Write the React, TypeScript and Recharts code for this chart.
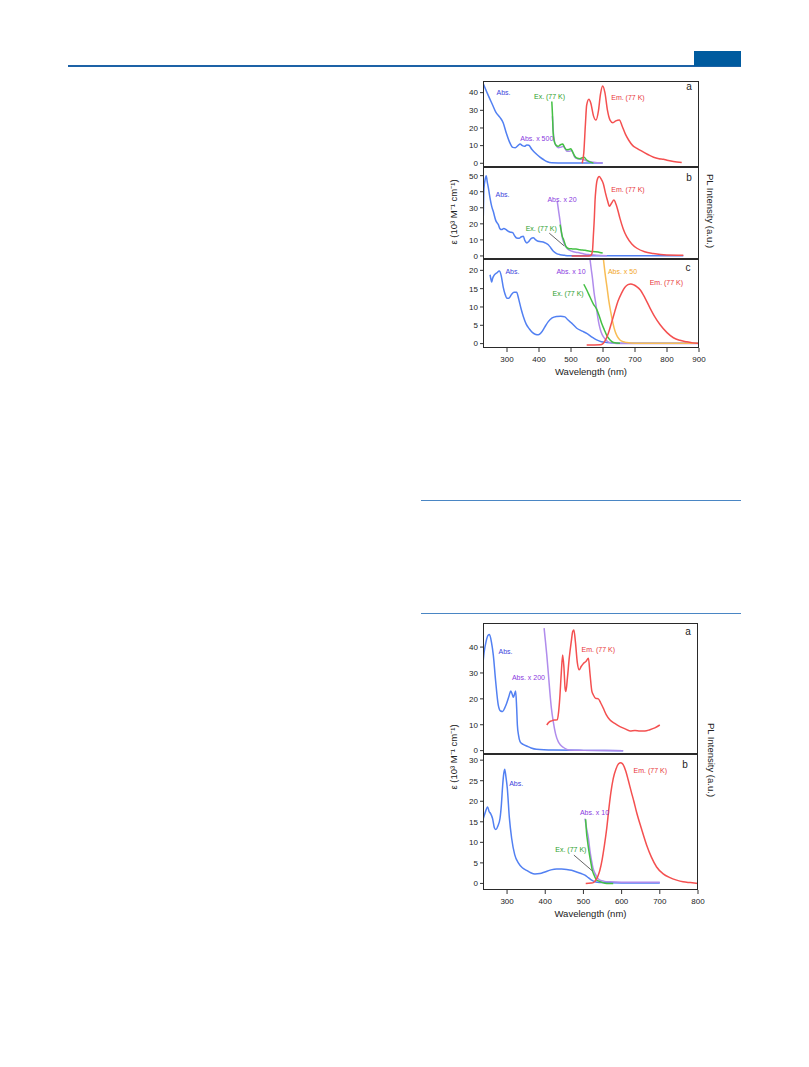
import React from 'react'
import { LineChart, Line, XAxis, YAxis, ReferenceDot, ReferenceLine } from 'recharts'

type Pt = [number, number]

// ---- figure 1 (panels a, b, c): wavelength (nm) vs eps (10^3 M-1 cm-1) / PL ----
const f1aAbs: Pt[] = [[226, 45], [240, 39], [255, 33], [265, 29], [278, 26], [288, 23], [298, 17], [308, 12], [318, 9], [326, 8.8], [334, 10], [341, 10.9], [348, 10], [355, 9.6], [362, 10.4], [368, 10.2], [378, 7.8], [390, 5.5], [403, 3.5], [415, 2], [426, 0.9], [440, 0.3], [480, 0.1], [599, 0.1]]
const f1aEx: Pt[] = [[440, 35], [442, 28], [444, 18], [447, 13], [452, 10.5], [460, 9.6], [467, 10.5], [474, 10.9], [480, 9], [487, 7.7], [493, 7.8], [499, 8.3], [505, 6.5], [512, 4], [520, 2.8], [528, 2.6], [535, 3.1], [541, 3.4], [548, 2], [555, 1.1], [563, 0.5], [570, 0.2]]
const f1aAbsX500: Pt[] = [[442, 26.6], [444, 20], [446, 15], [449, 12], [454, 9.8], [460, 8.8], [468, 9.1], [476, 9.6], [482, 8], [487, 6.8], [495, 6.8], [502, 7.2], [507, 5.5], [512, 3.4], [520, 2.6], [530, 2.3], [538, 2.1], [550, 1.3], [570, 0.6], [599, 0.2]]
const f1aEm: Pt[] = [[535, 0], [540, 6], [545, 22], [549, 33], [556, 36.3], [562, 34], [570, 27], [578, 24.5], [586, 30], [592, 39], [599, 43.8], [606, 40], [614, 30], [622, 24.5], [631, 23], [640, 24], [651, 24.5], [660, 21], [670, 16.5], [680, 13.2], [693, 10], [706, 8.5], [720, 7], [740, 5], [758, 3.4], [775, 2.6], [789, 2.3], [800, 1.7], [820, 1], [846, 0.5]]

const f1bAbs: Pt[] = [[226, 25], [228, 42], [232, 48], [235, 50], [238, 46.5], [243, 41], [247, 36], [252, 31], [257, 27.8], [265, 22], [273, 19.5], [278, 17], [283, 16.4], [290, 17.1], [296, 16.6], [302, 15.6], [309, 14.9], [318, 14.5], [324, 12.5], [330, 11.2], [338, 11], [345, 12], [351, 12.2], [356, 9.5], [362, 8.1], [368, 9], [375, 10.8], [382, 11.3], [390, 10], [398, 9.1], [406, 8.9], [413, 8.7], [421, 8], [429, 7], [437, 5], [445, 2.9], [455, 1.5], [466, 0.8], [480, 0.4], [492, 0.2], [600, 0.2], [851, 0.1]]
const f1bAbsX20: Pt[] = [[457, 34], [462, 27], [466, 21.6], [471, 13.3], [478, 8.1], [487, 5], [495, 3.6], [503, 2.9], [515, 2.3], [528, 1.9], [545, 1.1], [559, 0.8], [580, 0.4], [612, 0.2]]
const f1bEx: Pt[] = [[466, 19.5], [470, 15], [473, 12], [477, 10.1], [484, 6], [490, 4.8], [495, 4.5], [505, 4.4], [516, 4.3], [528, 3.9], [544, 3.5], [559, 2.9], [575, 2.6], [590, 2.2], [599, 1.8]]
const f1bEm: Pt[] = [[502, 0], [555, 0], [563, 0.5], [567, 3], [570, 13], [573, 24], [575, 34], [578, 42], [582, 47.5], [588, 49.5], [594, 48], [601, 45], [608, 39], [614, 34.5], [620, 31], [627, 33], [634, 34.8], [641, 32], [647, 28], [653, 23.4], [663, 17], [674, 12], [690, 7.5], [706, 4.8], [730, 2.6], [757, 1.5], [799, 0.6], [851, 0.5]]

const f1cAbs: Pt[] = [[247, 18.8], [250, 17.5], [252, 16.8], [255, 17.8], [260, 18.7], [268, 19.3], [276, 19.8], [282, 18.5], [288, 15.5], [294, 13.5], [300, 12.4], [306, 12.4], [314, 13.4], [322, 14], [330, 14], [337, 12], [344, 9.5], [351, 7.4], [360, 5.3], [370, 4], [380, 3], [390, 2.5], [398, 2.4], [407, 3], [418, 4.5], [429, 6], [441, 7], [455, 7.4], [468, 7.5], [481, 7.3], [490, 6.5], [502, 5.6], [518, 4.2], [535, 3.4], [549, 2.8], [565, 1.8], [580, 1], [595, 0.5], [612, 0.3], [650, 0.1], [900, 0.1]]
const f1cEx: Pt[] = [[540, 16.2], [550, 14.5], [559, 12.8], [570, 10.8], [580, 9.4], [588, 7.6], [596, 5.5], [604, 3.8], [612, 2.2], [622, 1], [633, 0.3], [653, 0.1]]
const f1cAbsX10: Pt[] = [[559, 23.3], [563, 20.5], [567, 17.9], [572, 14], [578, 10.6], [583, 7.6], [588, 5.1], [594, 3.2], [601, 1.9], [609, 1], [617, 0.4], [635, 0.1], [653, 0], [900, 0]]
const f1cAbsX50: Pt[] = [[601, 23.3], [606, 19.5], [613, 15.1], [618, 11.8], [624, 8.7], [631, 5.6], [638, 3.3], [645, 1.9], [653, 1], [663, 0.5], [674, 0.3], [700, 0.1], [900, 0.1]]
const f1cEm: Pt[] = [[549, -0.4], [591, -0.3], [600, 0], [608, 1], [617, 2.9], [627, 5.8], [637, 8.8], [647, 11.6], [658, 13.8], [668, 15.3], [678, 16.1], [687, 16.3], [697, 16], [706, 15.5], [716, 14.7], [731, 12.5], [747, 9.7], [762, 7.3], [778, 5.2], [800, 3], [820, 1.6], [840, 0.9], [862, 0.5], [880, 0.2], [900, 0]]

// ---- figure 2 (panels a, b) ----
const f2aAbs: Pt[] = [[236, 32.4], [240, 38], [245, 42.1], [250, 44.5], [254, 44.9], [259, 42], [264, 36.9], [270, 27], [277, 17.6], [283, 15.3], [288.5, 15.1], [294, 16.5], [299, 18.3], [305, 21], [309.5, 23], [313, 22], [316.5, 20.6], [319, 21.5], [322.5, 23], [325, 17], [327, 9.9], [330, 6], [334, 3.5], [342, 2.4], [351, 1.8], [363, 1], [377, 0.5], [421, 0.2], [500, 0.1], [604, 0]]
const f2aAbsX200: Pt[] = [[397, 47.3], [400, 43], [404, 37], [408, 30], [412, 22.8], [416, 16.5], [421, 11.2], [427, 6.5], [434, 3.5], [440, 2.2], [447, 1.3], [455, 0.6], [464, 0.2], [500, 0.1], [604, 0]]
const f2aEm: Pt[] = [[404, 9.9], [410, 11], [417, 11.5], [424, 11.8], [431.5, 11.9], [435, 15], [438, 20.2], [442, 30], [445.6, 36.9], [449, 32], [452, 24], [454, 22.8], [458, 28], [463, 36], [468, 42], [472, 46], [475, 46.6], [479, 42], [484, 34], [489, 31.2], [494, 32.5], [500, 33.7], [507, 34.5], [513, 35.7], [517, 30], [522, 23], [526, 21.5], [532, 20.2], [539, 20], [545, 18.5], [552, 16.4], [560, 13.8], [569, 11.9], [582, 10.5], [595.6, 9.3], [609, 8.4], [622, 7.6], [635, 7.8], [648, 7.6], [661, 7.6], [674, 8.1], [687, 8.8], [700, 9.9]]

const f2bAbs: Pt[] = [[236, 15.2], [242, 17], [249, 18.6], [253, 17.5], [257, 17], [262, 15.8], [267, 13.5], [271, 13.1], [276, 14], [281.5, 15.8], [285, 19], [288.5, 23.9], [291, 26.5], [293.8, 27.8], [297, 26], [300.7, 23.1], [306, 16], [312, 11], [320, 7], [329.5, 5], [340, 3.8], [351, 3.2], [362, 2.6], [373, 2.3], [386, 2.4], [399, 2.8], [415, 3.3], [430, 3.5], [443, 3.5], [456, 3.4], [469, 3.2], [482, 2.8], [494, 2.4], [504, 2], [513, 1.4], [521.5, 0.8], [530, 0.4], [543, 0.2], [600, 0.1], [700, 0.1]]
const f2bEx: Pt[] = [[505.8, 15.6], [508, 12.5], [511, 10.1], [515, 7.5], [519, 5.3], [523, 3.3], [528, 2], [533, 1], [539, 0.6], [550, 0.2], [561, 0], [578, 0]]
const f2bAbsX10: Pt[] = [[504, 15.8], [508, 13.5], [513, 11], [517, 8], [521.5, 5.4], [525, 3.8], [530, 2.5], [535, 1.6], [543, 0.8], [555, 0.5], [569, 0.4], [600, 0.3], [650, 0.3], [700, 0.3]]
const f2bEm: Pt[] = [[506, 0], [520, 0.1], [526, 0.2], [533, 0.9], [538, 1.8], [543, 3.2], [549, 5.8], [555, 9.3], [561, 13.4], [567, 18.5], [572, 22.2], [578, 25.5], [585, 27.8], [592, 29.1], [598, 29.4], [604, 28.9], [611, 27.3], [617.5, 25.1], [625, 22.4], [632, 20], [639, 17.4], [652, 13.3], [665.6, 9.3], [678, 6.4], [691.6, 4], [708, 2.4], [726.5, 1.4], [744, 0.8], [761, 0.4], [780, 0.2], [800, 0]]

const f1XTicks = [300, 400, 500, 600, 700, 800, 900]
const f2XTicks = [300, 400, 500, 600, 700, 800]

const C = {
  abs: '#5280f2', absText: '#3b3fdc',
  ex: '#44c044', exText: '#2a9e2a',
  pur: '#b08cec', purText: '#8a3ae0',
  em: '#f45050', emText: '#e8343a',
  org: '#f8bd55', orgText: '#f2a51c',
}

type Series = { data: Pt[]; color: string; pl?: boolean }
type Note = { text: string; x: number; y: number; color: string }
type PanelProps = {
  top: number; plotH: number; plotW: number
  xDomain: [number, number]; xTicks?: number[]
  yDomain: [number, number]; yTicks: number[]
  series: Series[]; notes: Note[]; arrow?: [Pt, Pt]
  letter: string; letterAt: [number, number]
}

const PLOT_LEFT = 483
const Y_W = 42
const R_W = 20
const X_H = 32
const PAD = 5 // room so edge tick labels are not clipped

const rows = (p: Pt[]) => p.map(([x, y]) => ({ x, y }))

function Panel(p: PanelProps) {
  const showX = !!p.xTicks
  const bottomPad = showX ? 0 : PAD
  const h = PAD + p.plotH + (showX ? X_H : bottomPad)
  return (
    <>
      <div style={{ position: 'absolute', left: PLOT_LEFT - Y_W, top: p.top - PAD }}>
        <LineChart width={Y_W + p.plotW + R_W} height={h} margin={{ top: PAD, right: 0, bottom: bottomPad, left: 0 }}>
          <XAxis
            type="number" dataKey="x" domain={p.xDomain} allowDataOverflow interval={0}
            hide={!showX} ticks={p.xTicks} tickSize={4} tickMargin={4} height={X_H}
            axisLine={false} tickLine={{ stroke: '#333' }}
            tick={{ fontSize: 8, fill: '#222' }}
            label={{ value: 'Wavelength (nm)', position: 'insideBottom', offset: 5, fontSize: 9.5, fill: '#222' }}
          />
          <YAxis
            yAxisId="eps" type="number" domain={p.yDomain} allowDataOverflow ticks={p.yTicks} interval={0}
            width={Y_W} tickSize={3} tickMargin={2} axisLine={false} tickLine={{ stroke: '#333' }}
            tick={{ fontSize: 8, fill: '#222' }}
          />
          <YAxis
            yAxisId="pl" orientation="right" type="number" domain={p.yDomain} allowDataOverflow
            width={R_W} tick={false} tickLine={false} axisLine={false}
          />
          {p.series.map((s, i) => (
            <Line
              key={i} data={rows(s.data)} dataKey="y" yAxisId={s.pl ? 'pl' : 'eps'}
              type="monotone" stroke={s.color} strokeWidth={1.5} dot={false}
              activeDot={false} isAnimationActive={false}
            />
          ))}
          {p.arrow && (
            <ReferenceLine
              yAxisId="eps"
              segment={[{ x: p.arrow[0][0], y: p.arrow[0][1] }, { x: p.arrow[1][0], y: p.arrow[1][1] }]}
              stroke="#666" strokeWidth={1}
            />
          )}
          {p.notes.map((n, i) => (
            <ReferenceDot
              key={'n' + i} yAxisId="eps" x={n.x} y={n.y} r={1} fill="none" stroke="none"
              label={{ value: n.text, position: 'center', fill: n.color, fontSize: 7 }}
            />
          ))}
        </LineChart>
      </div>
      <div style={{
        position: 'absolute', left: PLOT_LEFT, top: p.top, width: p.plotW, height: p.plotH,
        border: '1.6px solid #2a2a2a', boxSizing: 'border-box', pointerEvents: 'none',
      }} />
      <div style={{
        position: 'absolute', left: PLOT_LEFT + p.plotW + p.letterAt[0], top: p.top + p.letterAt[1],
        transform: 'translate(-50%, -50%)', fontSize: 10, lineHeight: 1, color: '#222',
      }}>{p.letter}</div>
    </>
  )
}

function VLabel({ text, x, y, rot }: { text: string; x: number; y: number; rot: number }) {
  return (
    <div style={{
      position: 'absolute', left: x, top: y, transform: `translate(-50%, -50%) rotate(${rot}deg)`,
      fontSize: 9.5, color: '#222', whiteSpace: 'nowrap', lineHeight: 1,
    }}>{text}</div>
  )
}

const EPS = 'ε (10³ M⁻¹ cm⁻¹)'
const PL = 'PL Intensity (a.u.)'

export default function App() {
  const f1x: [number, number] = [225, 900]
  const f2x: [number, number] = [237, 800]
  return (
    <div style={{
      position: 'absolute', left: 0, top: 0, width: 809, height: 1067, background: '#fff',
      fontFamily: '"Liberation Sans", Arial, sans-serif', overflow: 'hidden',
    }}>
      <div style={{ position: 'absolute', left: 68, top: 65, width: 673, height: 1.5, background: '#1d62a6' }} />
      <div style={{ position: 'absolute', left: 694, top: 51, width: 47, height: 15, background: '#005b9f' }} />
      <div style={{ position: 'absolute', left: 421, top: 500, width: 320, height: 1, background: '#4a86c4' }} />
      <div style={{ position: 'absolute', left: 421, top: 613, width: 320, height: 1, background: '#4a86c4' }} />

      <Panel
        top={81} plotH={86} plotW={216} xDomain={f1x}
        yDomain={[-2.1, 46.6]} yTicks={[0, 10, 20, 30, 40]}
        series={[
          { data: f1aAbs, color: C.abs },
          { data: f1aAbsX500, color: C.pur },
          { data: f1aEx, color: C.ex },
          { data: f1aEm, color: C.em, pl: true },
        ]}
        notes={[
          { text: 'Abs.', x: 289, y: 40, color: C.absText },
          { text: 'Ex. (77 K)', x: 433, y: 38, color: C.exText },
          { text: 'Abs. x 500', x: 393, y: 14.2, color: C.purText },
          { text: 'Em. (77 K)', x: 678, y: 37.2, color: C.emText },
        ]}
        letter="a" letterAt={[-10, 6]}
      />
      <Panel
        top={167} plotH={92} plotW={216} xDomain={f1x}
        yDomain={[-1.9, 55.4]} yTicks={[0, 10, 20, 30, 40, 50]}
        series={[
          { data: f1bAbs, color: C.abs },
          { data: f1bAbsX20, color: C.pur },
          { data: f1bEx, color: C.ex },
          { data: f1bEm, color: C.em, pl: true },
        ]}
        notes={[
          { text: 'Abs.', x: 286, y: 38, color: C.absText },
          { text: 'Abs. x 20', x: 472, y: 35.3, color: C.purText },
          { text: 'Ex. (77 K)', x: 407, y: 17.2, color: C.exText },
          { text: 'Em. (77 K)', x: 678, y: 41.5, color: C.emText },
        ]}
        arrow={[[432, 14.2], [479, 6.2]]}
        letter="b" letterAt={[-10, 11]}
      />
      <Panel
        top={259} plotH={89} plotW={216} xDomain={f1x} xTicks={f1XTicks}
        yDomain={[-1.2, 23.1]} yTicks={[0, 5, 10, 15, 20]}
        series={[
          { data: f1cAbs, color: C.abs },
          { data: f1cAbsX10, color: C.pur },
          { data: f1cAbsX50, color: C.org },
          { data: f1cEx, color: C.ex },
          { data: f1cEm, color: C.em, pl: true },
        ]}
        notes={[
          { text: 'Abs.', x: 317, y: 19.8, color: C.absText },
          { text: 'Abs. x 10', x: 500, y: 19.8, color: C.purText },
          { text: 'Abs. x 50', x: 661, y: 19.8, color: C.orgText },
          { text: 'Ex. (77 K)', x: 491, y: 13.7, color: C.exText },
          { text: 'Em. (77 K)', x: 798, y: 16.7, color: C.emText },
        ]}
        letter="c" letterAt={[-11, 9]}
      />
      <VLabel text={EPS} x={454} y={212} rot={-90} />
      <VLabel text={PL} x={710} y={211} rot={90} />

      <Panel
        top={623} plotH={131} plotW={215} xDomain={f2x}
        yDomain={[-1.3, 49.3]} yTicks={[0, 10, 20, 30, 40]}
        series={[
          { data: f2aAbs, color: C.abs },
          { data: f2aAbsX200, color: C.pur },
          { data: f2aEm, color: C.em, pl: true },
        ]}
        notes={[
          { text: 'Abs.', x: 296, y: 38.2, color: C.absText },
          { text: 'Abs. x 200', x: 356, y: 28.3, color: C.purText },
          { text: 'Em. (77 K)', x: 539, y: 39.1, color: C.emText },
        ]}
        letter="a" letterAt={[-10, 9]}
      />
      <Panel
        top={754} plotH={136} plotW={215} xDomain={f2x} xTicks={f2XTicks}
        yDomain={[-1.6, 31.5]} yTicks={[0, 5, 10, 15, 20, 25, 30]}
        series={[
          { data: f2bAbs, color: C.abs },
          { data: f2bAbsX10, color: C.pur },
          { data: f2bEx, color: C.ex },
          { data: f2bEm, color: C.em, pl: true },
        ]}
        notes={[
          { text: 'Abs.', x: 324, y: 24.3, color: C.absText },
          { text: 'Em. (77 K)', x: 675, y: 27.4, color: C.emText },
          { text: 'Abs. x 10', x: 529, y: 17.3, color: C.purText },
          { text: 'Ex. (77 K)', x: 467, y: 8.3, color: C.exText },
        ]}
        arrow={[[475, 6.9], [524, 3]]}
        letter="b" letterAt={[-13, 11]}
      />
      <VLabel text={EPS} x={454} y={757} rot={-90} />
      <VLabel text={PL} x={711} y={760} rot={90} />
    </div>
  )
}
